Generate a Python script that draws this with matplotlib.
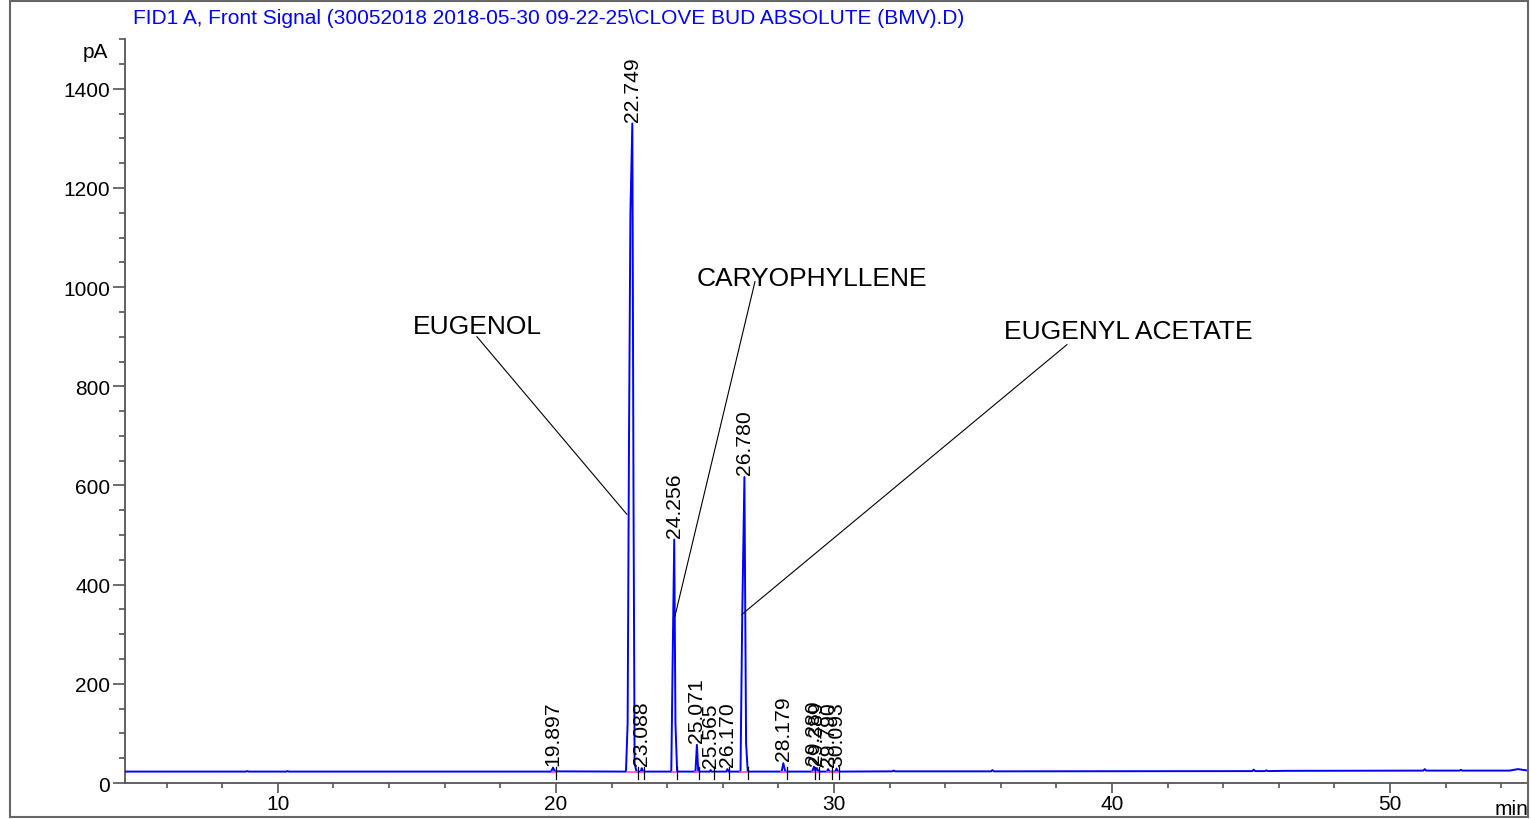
import matplotlib
matplotlib.use("Agg")
import matplotlib.pyplot as plt
from matplotlib.patches import Rectangle
from matplotlib.ticker import MultipleLocator

plt.rcParams['font.family'] = ['Liberation Sans', 'DejaVu Sans']

title = "FID1 A, Front Signal (30052018 2018-05-30 09-22-25\\CLOVE BUD ABSOLUTE (BMV).D)"

# trace vertices (min, pA)
traceTime = [4.5, 8.85, 8.9, 8.95, 10.3, 10.35, 10.4,
             19.83, 19.897, 19.96,
             22.52, 22.58, 22.63, 22.68, 22.749, 22.79, 22.83, 22.9,
             23.05, 23.088, 23.14,
             24.15, 24.2, 24.256, 24.3, 24.36,
             25.02, 25.071, 25.12,
             25.53, 25.565, 25.6,
             26.13, 26.17, 26.21,
             26.64, 26.7, 26.78, 26.84, 26.9,
             28.12, 28.179, 28.25,
             29.22, 29.28, 29.33, 29.389, 29.44,
             29.75, 29.79, 29.84, 30.05, 30.093, 30.14,
             32.1, 32.15, 32.2, 35.65, 35.7, 35.75,
             45.05, 45.1, 45.15, 45.5, 45.55, 45.6, 46.2,
             51.2, 51.25, 51.3, 52.5, 52.55, 52.6,
             54.3, 54.6, 54.9, 55.0]
traceSignal = [23, 23, 24, 23, 23, 24, 23,
               23, 31, 23.5,
               23, 120, 700, 1150, 1330, 600, 40, 23,
               23, 30, 23,
               23, 250, 491, 120, 23,
               23, 77, 23,
               23, 26, 23,
               23, 28, 23,
               23, 330, 617, 80, 23,
               23, 40, 23,
               23, 33, 25, 30, 23,
               23, 28, 23, 23, 29, 23,
               23.5, 25, 23.5, 23.5, 26, 23.5,
               24, 27, 24, 24, 25.5, 24, 24.5,
               25, 28, 25, 25, 26.5, 25,
               25, 28, 25.5, 25]

# integrated peaks: retention time, apex height
peakTimes = [19.897, 22.749, 23.088, 24.256, 25.071, 25.565, 26.170, 26.780,
             28.179, 29.280, 29.389, 29.790, 30.093]
peakHeights = [31, 1330, 30, 491, 77, 26, 28, 617, 40, 33, 30, 28, 29]

# integration events (peak start/end marks)
eventTimes = [20.0, 22.95, 23.17, 24.35, 25.14, 25.68, 26.22, 26.91,
              28.3, 29.32, 29.46, 29.93, 30.18]
baselineSegments = [(19.85, 19.95), (22.55, 22.95), (23.05, 23.17), (24.17, 24.35),
                    (25.0, 25.14), (26.62, 26.91), (28.1, 28.3), (29.2, 29.46), (29.75, 30.18)]

compoundNames = ["EUGENOL", "CARYOPHYLLENE", "EUGENYL ACETATE"]
compoundTextPos = [(14.86, 921), (25.07, 1019), (36.12, 911)]
compoundLineStart = [(17.16, 900), (27.16, 1011), (38.38, 884)]
compoundLineEnd = [(22.55, 542), (24.28, 336), (26.69, 340)]

fig = plt.figure(figsize=(15.31, 8.2), dpi=100)
ax = fig.add_axes([0.0816, 0.0439, 0.9164, 0.9071])

spineColor = '#555555'

ax.plot(traceTime, traceSignal, color='#0000ff', lw=1.4, zorder=3)

for start, end in baselineSegments:
    ax.plot([start, end], [23, 23], color='#ff44cc', lw=1.2, zorder=4)

for t in eventTimes:
    ax.plot([t, t], [33, 9], color='black', lw=0.9, zorder=5)

for t, h in zip(peakTimes, peakHeights):
    label = f"{t:.3f}"
    ax.text(t, h + 6, label, rotation=90, ha='center', va='bottom', fontsize=15.2, zorder=6)

for name, pos, p0, p1 in zip(compoundNames, compoundTextPos, compoundLineStart, compoundLineEnd):
    ax.text(pos[0], pos[1], name, ha='left', va='center', fontsize=19)
    ax.plot([p0[0], p1[0]], [p0[1], p1[1]], color='black', lw=0.8, zorder=7)

ax.set_xlim(4.5, 54.96)
ax.set_ylim(0, 1500)

for side in ['top', 'right']:
    ax.spines[side].set_visible(False)
for side in ['left', 'bottom']:
    ax.spines[side].set_color(spineColor)
    ax.spines[side].set_linewidth(1.3)

ax.xaxis.set_major_locator(MultipleLocator(10))
ax.xaxis.set_minor_locator(MultipleLocator(2))
ax.yaxis.set_major_locator(MultipleLocator(200))
ax.yaxis.set_minor_locator(MultipleLocator(50))
ax.set_yticks([0, 200, 400, 600, 800, 1000, 1200, 1400])

ax.tick_params(axis='x', which='major', length=7, width=1.2, color=spineColor, labelsize=15, pad=1)
ax.tick_params(axis='x', which='minor', length=3.5, width=1.2, color=spineColor)
ax.tick_params(axis='y', which='major', length=8.5, width=1.2, color=spineColor, labelsize=15, pad=2)
ax.tick_params(axis='y', which='minor', length=4.5, width=1.2, color=spineColor)

ax.text(-0.012, 1475, "pA", transform=ax.get_yaxis_transform(), ha='right', va='center', fontsize=15)
ax.text(1.0, -0.034, "min", transform=ax.transAxes, ha='right', va='center', fontsize=15)

fig.text(133 / 1531, 1 - 18 / 820, title, color='#0000ff', fontsize=15, ha='left', va='center')

fig.patches.append(Rectangle((10 / 1531, 2 / 820), 1518 / 1531, 816 / 820, transform=fig.transFigure,
                             fill=False, edgecolor='#666666', lw=1.5))

fig.savefig("out.png", dpi=100)
